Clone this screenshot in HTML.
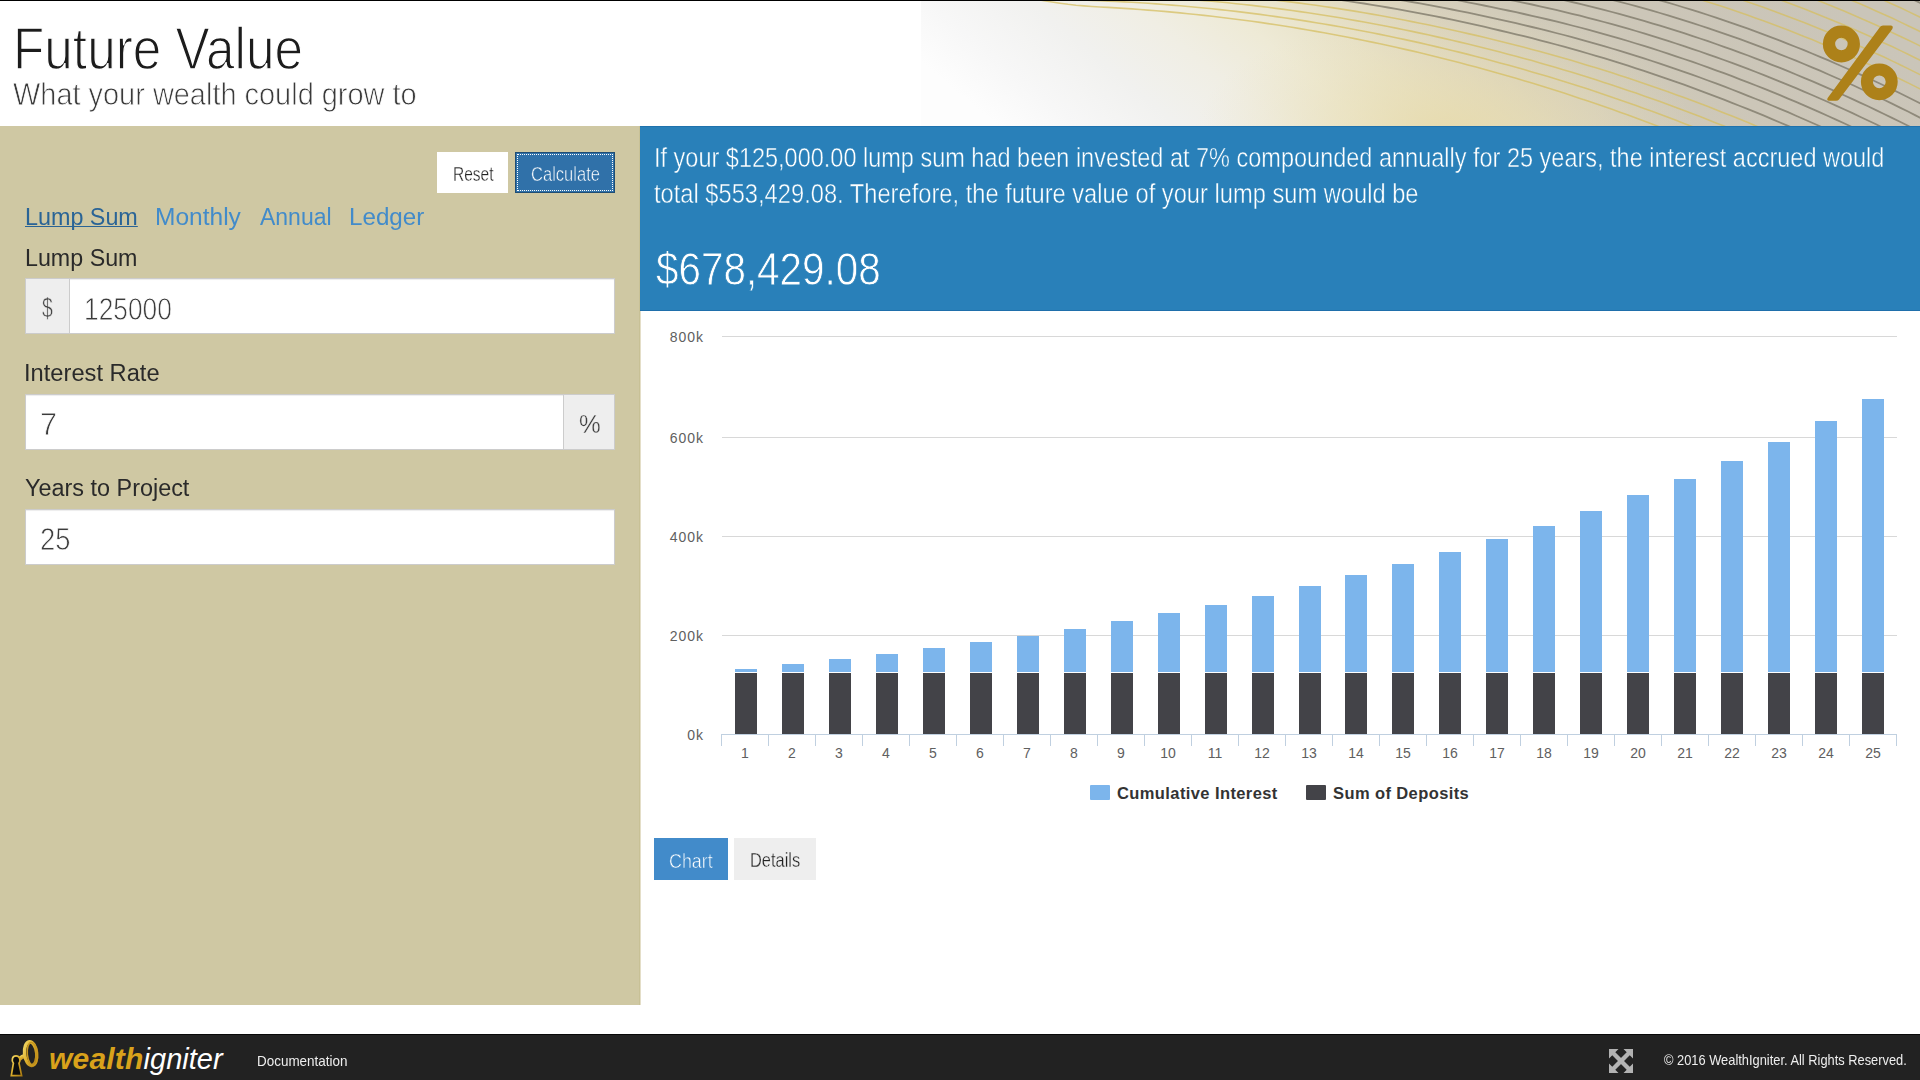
<!DOCTYPE html>
<html><head><meta charset="utf-8"><title>Future Value</title>
<style>
*{box-sizing:border-box;margin:0;padding:0}
html,body{width:1920px;height:1080px;overflow:hidden;background:#fff;font-family:"Liberation Sans",sans-serif}
.abs{position:absolute}
.tx{position:absolute;white-space:nowrap;transform-origin:0 0}
#topline{left:0;top:0;width:1920px;height:1px;background:#000}
#left{left:0;top:126px;width:640px;height:879px;background:#cfc8a3;border-right:1px solid #c8c196}
#reset{left:437px;top:152px;width:71px;height:41px;background:#fff}
#calc{left:515px;top:152px;width:100px;height:41px;background:#3071a9;border:1px solid #204d74}
#calc span{position:absolute;left:1px;top:1px;right:1px;bottom:1px;border:1px dotted #fff}
.inp{position:absolute;left:25px;width:590px;height:56px;background:#fff;border:1px solid #ccc;box-shadow:inset 0 1px 1px rgba(0,0,0,.075)}
.addon{position:absolute;top:0;height:54px;background:#eee}
#blue{left:640px;top:126px;width:1280px;height:185px;background:#2980b9;border-top:1px solid #1f72ad;border-bottom:1px solid #1f6fab}
.xl,.yl{font-family:"Liberation Sans",sans-serif;font-size:14px;fill:#606060}
.yl{letter-spacing:1px}
.lg{font-family:"Liberation Sans",sans-serif;font-size:16.5px;font-weight:bold;fill:#333;letter-spacing:0.4px}
#bchart{left:654px;top:838px;width:74px;height:42px;background:#428bca}
#bdet{left:734px;top:838px;width:82px;height:42px;background:#eee}
#footer{left:0;top:1034px;width:1920px;height:46px;background:#222;border-top:1px solid #080808}
#logo{left:49px;top:1044px;font-size:29px;line-height:29px;font-style:italic;white-space:nowrap}
#logo b{color:#d9a21b;font-size:30px;letter-spacing:0.2px}
#logo span{color:#fff}
#svgall{left:0;top:0;width:1920px;height:1080px}
</style></head><body>
<div id="topline" class="abs"></div>
<div id="left" class="abs"></div>
<div id="blue" class="abs"></div>
<div class="abs" style="left:640px;top:311px;width:1px;height:694px;background:#e4dec8"></div>
<div id="footer" class="abs"></div>
<div id="reset" class="abs"></div>
<div id="calc" class="abs"><span></span></div>
<div class="inp" style="top:278px"><div class="addon" style="left:0;width:44px;border-right:1px solid #ccc"></div></div>
<div class="inp" style="top:394px"><div class="addon" style="right:0;width:51px;border-left:1px solid #ccc"></div></div>
<div class="inp" style="top:509px"></div>
<div id="bchart" class="abs"></div>
<div id="bdet" class="abs"></div>
<svg id="svgall" class="abs" viewBox="0 0 1920 1080">
<defs>
<linearGradient id="hg" gradientUnits="userSpaceOnUse" x1="846.6" y1="0" x2="1256.6" y2="-492">
<stop offset="0" stop-color="#fdfdfd"/>
<stop offset="0.08" stop-color="#f7f7f7"/>
<stop offset="0.18" stop-color="#f1f1ef"/>
<stop offset="0.28" stop-color="#f0eee4"/>
<stop offset="0.37" stop-color="#eeead6"/>
<stop offset="0.45" stop-color="#e8e2c8"/>
<stop offset="0.52" stop-color="#dfd8c0"/>
<stop offset="0.58" stop-color="#d7d0bc"/>
<stop offset="0.66" stop-color="#d0cab9"/>
<stop offset="0.78" stop-color="#ccc6b8"/>
<stop offset="1" stop-color="#cac5b9"/>
</linearGradient>
<radialGradient id="hr" gradientUnits="userSpaceOnUse" cx="1445" cy="135" r="250" gradientTransform="translate(1445 135) scale(1 0.5) translate(-1445 -135)">
<stop offset="0" stop-color="#e6d9a8" stop-opacity="0.85"/>
<stop offset="0.5" stop-color="#e8ddb2" stop-opacity="0.45"/>
<stop offset="1" stop-color="#ebe2c0" stop-opacity="0"/>
</radialGradient>
<clipPath id="hc"><rect x="921" y="1" width="999" height="125"/></clipPath>
<filter id="hb" x="-1%" y="-10%" width="102%" height="120%"><feGaussianBlur stdDeviation="0.45"/></filter>
</defs>
<rect x="921" y="1" width="999" height="125" fill="url(#hg)"/>
<rect x="921" y="1" width="999" height="125" fill="url(#hr)"/>
<g clip-path="url(#hc)"><g fill="none" filter="url(#hb)">
<path d="M1020 -4.1 L1028 -2.3 L1036 -0.7 L1044 0.7 L1052 2.0 L1060 3.2 L1068 4.3 L1076 5.2 L1084 5.9 L1092 6.5 L1100 7.0 L1108 7.4 L1116 7.9 L1124 8.4 L1132 8.9 L1140 9.5 L1148 10.1 L1156 10.7 L1164 11.4 L1172 12.1 L1180 12.9 L1188 13.7 L1196 14.5 L1204 15.4 L1212 16.3 L1220 17.2 L1228 18.2 L1236 19.2 L1244 20.2 L1252 21.3 L1260 22.4 L1268 23.6 L1276 24.8 L1284 26.0 L1292 27.3 L1300 28.6 L1308 30.0 L1316 31.4 L1324 32.8 L1332 34.3 L1340 35.7 L1348 37.3 L1356 38.9 L1364 40.5 L1372 42.1 L1380 43.8 L1388 45.5 L1396 47.3 L1404 49.1 L1412 50.9 L1420 52.8 L1428 54.7 L1436 56.7 L1444 58.7 L1452 60.7 L1460 62.8 L1468 64.9 L1476 67.0 L1484 69.2 L1492 71.4 L1500 73.7 L1508 76.0 L1516 78.3 L1524 80.7 L1532 83.1 L1540 85.5 L1548 88.0 L1556 90.6 L1564 93.1 L1572 95.7 L1580 98.4 L1588 101.0 L1596 103.8 L1604 106.5 L1612 109.3 L1620 112.2 L1628 115.0 L1636 117.9 L1644 120.9 L1652 123.9 L1660 126.9 L1668 130.0 L1676 133.1 L1684 136.2 L1692 139.4" stroke="#d6bf62" stroke-width="1.6" opacity="0.75"/>
<path d="M1036 -6.7 L1044 -5.3 L1052 -4.0 L1060 -2.8 L1068 -1.7 L1076 -0.8 L1084 -0.1 L1092 0.4 L1100 0.8 L1108 1.1 L1116 1.5 L1124 1.9 L1132 2.3 L1140 2.8 L1148 3.3 L1156 3.9 L1164 4.5 L1172 5.1 L1180 5.8 L1188 6.5 L1196 7.2 L1204 8.0 L1212 8.8 L1220 9.6 L1228 10.5 L1236 11.4 L1244 12.4 L1252 13.4 L1260 14.4 L1268 15.5 L1276 16.6 L1284 17.7 L1292 18.9 L1300 20.1 L1308 21.4 L1316 22.7 L1324 24.0 L1332 25.4 L1340 26.8 L1348 28.2 L1356 29.7 L1364 31.2 L1372 32.8 L1380 34.4 L1388 36.0 L1396 37.7 L1404 39.4 L1412 41.1 L1420 42.9 L1428 44.8 L1436 46.6 L1444 48.5 L1452 50.5 L1460 52.4 L1468 54.4 L1476 56.5 L1484 58.6 L1492 60.7 L1500 62.9 L1508 65.1 L1516 67.3 L1524 69.6 L1532 71.9 L1540 74.2 L1548 76.6 L1556 79.0 L1564 81.5 L1572 84.0 L1580 86.6 L1588 89.1 L1596 91.8 L1604 94.4 L1612 97.2 L1620 99.9 L1628 102.7 L1636 105.5 L1644 108.4 L1652 111.3 L1660 114.3 L1668 117.3 L1676 120.3 L1684 123.4 L1692 126.5 L1700 129.6 L1708 132.8 L1716 136.1 L1724 139.3" stroke="#d6bf62" stroke-width="1.6" opacity="0.75"/>
<path d="M1068 -7.7 L1076 -6.8 L1084 -6.1 L1092 -5.7 L1100 -5.4 L1108 -5.2 L1116 -4.9 L1124 -4.6 L1132 -4.2 L1140 -3.8 L1148 -3.4 L1156 -3.0 L1164 -2.5 L1172 -1.9 L1180 -1.4 L1188 -0.8 L1196 -0.1 L1204 0.6 L1212 1.3 L1220 2.0 L1228 2.8 L1236 3.7 L1244 4.5 L1252 5.4 L1260 6.4 L1268 7.3 L1276 8.4 L1284 9.4 L1292 10.5 L1300 11.6 L1308 12.8 L1316 14.0 L1324 15.2 L1332 16.5 L1340 17.8 L1348 19.2 L1356 20.6 L1364 22.0 L1372 23.5 L1380 25.0 L1388 26.5 L1396 28.1 L1404 29.7 L1412 31.4 L1420 33.1 L1428 34.8 L1436 36.6 L1444 38.4 L1452 40.2 L1460 42.1 L1468 44.0 L1476 46.0 L1484 48.0 L1492 50.0 L1500 52.1 L1508 54.2 L1516 56.3 L1524 58.4 L1532 60.6 L1540 62.9 L1548 65.2 L1556 67.5 L1564 69.9 L1572 72.3 L1580 74.8 L1588 77.3 L1596 79.8 L1604 82.4 L1612 85.0 L1620 87.7 L1628 90.4 L1636 93.1 L1644 95.9 L1652 98.7 L1660 101.6 L1668 104.5 L1676 107.5 L1684 110.5 L1692 113.5 L1700 116.6 L1708 119.7 L1716 122.9 L1724 126.1 L1732 129.4 L1740 132.7 L1748 136.0 L1756 139.4" stroke="#d6bf62" stroke-width="1.6" opacity="0.75"/>
<path d="M1188 -8.0 L1196 -7.4 L1204 -6.8 L1212 -6.2 L1220 -5.5 L1228 -4.8 L1236 -4.1 L1244 -3.3 L1252 -2.5 L1260 -1.7 L1268 -0.8 L1276 0.1 L1284 1.1 L1292 2.1 L1300 3.1 L1308 4.2 L1316 5.3 L1324 6.5 L1332 7.6 L1340 8.9 L1348 10.1 L1356 11.4 L1364 12.8 L1372 14.1 L1380 15.5 L1388 17.0 L1396 18.5 L1404 20.0 L1412 21.6 L1420 23.2 L1428 24.8 L1436 26.5 L1444 28.2 L1452 30.0 L1460 31.7 L1468 33.6 L1476 35.4 L1484 37.3 L1492 39.3 L1500 41.3 L1508 43.2 L1516 45.3 L1524 47.3 L1532 49.4 L1540 51.6 L1548 53.8 L1556 56.0 L1564 58.3 L1572 60.6 L1580 63.0 L1588 65.4 L1596 67.8 L1604 70.3 L1612 72.8 L1620 75.4 L1628 78.0 L1636 80.7 L1644 83.4 L1652 86.2 L1660 89.0 L1668 91.8 L1676 94.7 L1684 97.6 L1692 100.6 L1700 103.6 L1708 106.6 L1716 109.7 L1724 112.9 L1732 116.1 L1740 119.3 L1748 122.6 L1756 125.9 L1764 129.3 L1772 132.7 L1780 136.1 L1788 139.6" stroke="#d6bf62" stroke-width="1.6" opacity="0.75"/>
<path d="M1284 -7.2 L1292 -6.3 L1300 -5.4 L1308 -4.4 L1316 -3.4 L1324 -2.3 L1332 -1.2 L1340 -0.1 L1348 1.1 L1356 2.3 L1364 3.5 L1372 4.8 L1380 6.1 L1388 7.5 L1396 8.9 L1404 10.3 L1412 11.8 L1420 13.3 L1428 14.8 L1436 16.4 L1444 18.0 L1452 19.7 L1460 21.4 L1468 23.1 L1476 24.9 L1484 26.7 L1492 28.6 L1500 30.5 L1508 32.3 L1516 34.3 L1524 36.2 L1532 38.2 L1540 40.3 L1548 42.3 L1556 44.5 L1564 46.7 L1572 48.9 L1580 51.1 L1588 53.5 L1596 55.8 L1604 58.2 L1612 60.7 L1620 63.2 L1628 65.7 L1636 68.3 L1644 70.9 L1652 73.6 L1660 76.3 L1668 79.1 L1676 81.9 L1684 84.7 L1692 87.6 L1700 90.6 L1708 93.6 L1716 96.6 L1724 99.7 L1732 102.8 L1740 106.0 L1748 109.2 L1756 112.4 L1764 115.7 L1772 119.1 L1780 122.5 L1788 125.9 L1796 129.4 L1804 133.0 L1812 136.5" stroke="#7f7a6a" stroke-width="1.8" opacity="0.8"/>
<path d="M1348 -8.0 L1356 -6.9 L1364 -5.7 L1372 -4.5 L1380 -3.3 L1388 -2.0 L1396 -0.7 L1404 0.6 L1412 2.0 L1420 3.4 L1428 4.9 L1436 6.4 L1444 7.9 L1452 9.5 L1460 11.1 L1468 12.7 L1476 14.4 L1484 16.1 L1492 17.9 L1500 19.7 L1508 21.4 L1516 23.2 L1524 25.1 L1532 27.0 L1540 28.9 L1548 30.9 L1556 33.0 L1564 35.0 L1572 37.2 L1580 39.3 L1588 41.6 L1596 43.8 L1604 46.1 L1612 48.5 L1620 50.9 L1628 53.4 L1636 55.9 L1644 58.4 L1652 61.0 L1660 63.6 L1668 66.3 L1676 69.1 L1684 71.8 L1692 74.7 L1700 77.5 L1708 80.5 L1716 83.4 L1724 86.4 L1732 89.5 L1740 92.6 L1748 95.8 L1756 99.0 L1764 102.2 L1772 105.5 L1780 108.9 L1788 112.2 L1796 115.7 L1804 119.2 L1812 122.7 L1820 126.3 L1828 129.9 L1836 133.6 L1844 137.3" stroke="#7f7a6a" stroke-width="1.8" opacity="0.8"/>
<path d="M1412 -7.8 L1420 -6.5 L1428 -5.1 L1436 -3.7 L1444 -2.3 L1452 -0.8 L1460 0.7 L1468 2.3 L1476 3.9 L1484 5.5 L1492 7.2 L1500 8.9 L1508 10.5 L1516 12.2 L1524 14.0 L1532 15.8 L1540 17.6 L1548 19.5 L1556 21.4 L1564 23.4 L1572 25.5 L1580 27.5 L1588 29.7 L1596 31.8 L1604 34.1 L1612 36.3 L1620 38.7 L1628 41.0 L1636 43.5 L1644 45.9 L1652 48.4 L1660 51.0 L1668 53.6 L1676 56.3 L1684 59.0 L1692 61.7 L1700 64.5 L1708 67.4 L1716 70.3 L1724 73.2 L1732 76.2 L1740 79.3 L1748 82.4 L1756 85.5 L1764 88.7 L1772 91.9 L1780 95.2 L1788 98.6 L1796 101.9 L1804 105.4 L1812 108.9 L1820 112.4 L1828 116.0 L1836 119.6 L1844 123.3 L1852 127.0 L1860 130.8 L1868 134.6 L1876 138.5" stroke="#7f7a6a" stroke-width="1.8" opacity="0.8"/>
<path d="M1476 -6.7 L1484 -5.1 L1492 -3.5 L1500 -1.9 L1508 -0.4 L1516 1.2 L1524 2.9 L1532 4.5 L1540 6.3 L1548 8.1 L1556 9.9 L1564 11.8 L1572 13.8 L1580 15.7 L1588 17.8 L1596 19.9 L1604 22.0 L1612 24.2 L1620 26.4 L1628 28.7 L1636 31.0 L1644 33.4 L1652 35.9 L1660 38.3 L1668 40.9 L1676 43.5 L1684 46.1 L1692 48.8 L1700 51.5 L1708 54.3 L1716 57.1 L1724 60.0 L1732 62.9 L1740 65.9 L1748 68.9 L1756 72.0 L1764 75.2 L1772 78.3 L1780 81.6 L1788 84.9 L1796 88.2 L1804 91.6 L1812 95.0 L1820 98.5 L1828 102.0 L1836 105.6 L1844 109.3 L1852 112.9 L1860 116.7 L1868 120.5 L1876 124.3 L1884 128.2 L1892 132.1 L1900 136.1" stroke="#7f7a6a" stroke-width="1.8" opacity="0.8"/>
<path d="M1532 -6.7 L1540 -5.0 L1548 -3.3 L1556 -1.6 L1564 0.2 L1572 2.0 L1580 3.9 L1588 5.9 L1596 7.9 L1604 9.9 L1612 12.0 L1620 14.2 L1628 16.4 L1636 18.6 L1644 20.9 L1652 23.3 L1660 25.7 L1668 28.1 L1676 30.7 L1684 33.2 L1692 35.8 L1700 38.5 L1708 41.2 L1716 44.0 L1724 46.8 L1732 49.6 L1740 52.6 L1748 55.5 L1756 58.6 L1764 61.6 L1772 64.8 L1780 67.9 L1788 71.2 L1796 74.5 L1804 77.8 L1812 81.2 L1820 84.6 L1828 88.1 L1836 91.6 L1844 95.2 L1852 98.9 L1860 102.6 L1868 106.3 L1876 110.1 L1884 114.0 L1892 117.9 L1900 121.8 L1908 125.8 L1916 129.9 L1924 134.0" stroke="#7f7a6a" stroke-width="1.8" opacity="0.8"/>
<path d="M1580 -7.9 L1588 -6.0 L1596 -4.1 L1604 -2.1 L1612 -0.1 L1620 1.9 L1628 4.0 L1636 6.2 L1644 8.4 L1652 10.7 L1660 13.0 L1668 15.4 L1676 17.9 L1684 20.3 L1692 22.9 L1700 25.5 L1708 28.1 L1716 30.8 L1724 33.6 L1732 36.4 L1740 39.2 L1748 42.1 L1756 45.1 L1764 48.1 L1772 51.2 L1780 54.3 L1788 57.5 L1796 60.7 L1804 64.0 L1812 67.3 L1820 70.7 L1828 74.2 L1836 77.7 L1844 81.2 L1852 84.8 L1860 88.5 L1868 92.2 L1876 95.9 L1884 99.8 L1892 103.6 L1900 107.6 L1908 111.5 L1916 115.6 L1924 119.7" stroke="#7f7a6a" stroke-width="1.8" opacity="0.8"/>
<path d="M1636 -6.2 L1644 -4.1 L1652 -1.9 L1660 0.4 L1668 2.7 L1676 5.0 L1684 7.5 L1692 9.9 L1700 12.4 L1708 15.0 L1716 17.7 L1724 20.3 L1732 23.1 L1740 25.9 L1748 28.7 L1756 31.6 L1764 34.6 L1772 37.6 L1780 40.7 L1788 43.8 L1796 47.0 L1804 50.2 L1812 53.5 L1820 56.8 L1828 60.2 L1836 63.7 L1844 67.2 L1852 70.7 L1860 74.4 L1868 78.0 L1876 81.8 L1884 85.5 L1892 89.4 L1900 93.3 L1908 97.2 L1916 101.2 L1924 105.3" stroke="#7f7a6a" stroke-width="1.8" opacity="0.8"/>
<path d="M1676 -7.8 L1684 -5.4 L1692 -3.0 L1700 -0.6 L1708 1.9 L1716 4.5 L1724 7.1 L1732 9.8 L1740 12.5 L1748 15.3 L1756 18.2 L1764 21.1 L1772 24.0 L1780 27.0 L1788 30.1 L1796 33.2 L1804 36.4 L1812 39.6 L1820 42.9 L1828 46.3 L1836 49.7 L1844 53.2 L1852 56.7 L1860 60.3 L1868 63.9 L1876 67.6 L1884 71.3 L1892 75.1 L1900 79.0 L1908 82.9 L1916 86.9 L1924 90.9" stroke="#d6bf62" stroke-width="1.6" opacity="0.75"/>
<path d="M1724 -6.1 L1732 -3.5 L1740 -0.8 L1748 1.9 L1756 4.7 L1764 7.5 L1772 10.4 L1780 13.4 L1788 16.4 L1796 19.5 L1804 22.6 L1812 25.8 L1820 29.0 L1828 32.3 L1836 35.7 L1844 39.1 L1852 42.6 L1860 46.2 L1868 49.7 L1876 53.4 L1884 57.1 L1892 60.9 L1900 64.7 L1908 68.6 L1916 72.6 L1924 76.6" stroke="#d6bf62" stroke-width="1.6" opacity="0.75"/>
<path d="M1764 -6.0 L1772 -3.2 L1780 -0.3 L1788 2.7 L1796 5.7 L1804 8.8 L1812 12.0 L1820 15.2 L1828 18.4 L1836 21.7 L1844 25.1 L1852 28.5 L1860 32.0 L1868 35.6 L1876 39.2 L1884 42.9 L1892 46.6 L1900 50.4 L1908 54.3 L1916 58.2 L1924 62.2" stroke="#d6bf62" stroke-width="1.6" opacity="0.75"/>
<path d="M1804 -5.0 L1812 -1.9 L1820 1.3 L1828 4.5 L1836 7.7 L1844 11.1 L1852 14.5 L1860 17.9 L1868 21.5 L1876 25.0 L1884 28.7 L1892 32.4 L1900 36.2 L1908 40.0 L1916 43.9 L1924 47.8" stroke="#d6bf62" stroke-width="1.6" opacity="0.75"/>
<path d="M1836 -6.2 L1844 -2.9 L1852 0.4 L1860 3.8 L1868 7.3 L1876 10.9 L1884 14.5 L1892 18.1 L1900 21.9 L1908 25.7 L1916 29.5 L1924 33.5" stroke="#d6bf62" stroke-width="1.6" opacity="0.75"/>
<path d="M1868 -6.8 L1876 -3.3 L1884 0.3 L1892 3.9 L1900 7.6 L1908 11.4 L1916 15.2 L1924 19.1" stroke="#d6bf62" stroke-width="1.6" opacity="0.75"/>
<path d="M1900 -6.7 L1908 -2.9 L1916 0.9 L1924 4.7" stroke="#7f7a6a" stroke-width="1.8" opacity="0.8"/>
</g></g>
<circle cx="1841.4" cy="44" r="12.4" fill="none" stroke="#ad8119" stroke-width="12.3"/>
<circle cx="1879.3" cy="81.8" r="12.4" fill="none" stroke="#ad8119" stroke-width="12"/>
<path d="M1883 25.5 L1891 25.5 Q1894 26 1892 29.5 L1839 99.5 Q1838 100.8 1836 100.8 L1829 100.8 Q1826 100.5 1828 97.5 L1880 27 Q1881 25.5 1883 25.5 Z" fill="#ad8119"/>
<rect x="722" y="336" width="1175" height="1" fill="#d8d8d8"/>
<rect x="722" y="437" width="1175" height="1" fill="#d8d8d8"/>
<rect x="722" y="536" width="1175" height="1" fill="#d8d8d8"/>
<rect x="722" y="635" width="1175" height="1" fill="#d8d8d8"/>
<rect x="735" y="673" width="22" height="61" fill="#434348"/>
<rect x="735" y="669" width="22" height="3" fill="#7cb5ec"/>
<rect x="782" y="673" width="22" height="61" fill="#434348"/>
<rect x="782" y="664" width="22" height="8" fill="#7cb5ec"/>
<rect x="829" y="673" width="22" height="61" fill="#434348"/>
<rect x="829" y="659" width="22" height="13" fill="#7cb5ec"/>
<rect x="876" y="673" width="22" height="61" fill="#434348"/>
<rect x="876" y="654" width="22" height="18" fill="#7cb5ec"/>
<rect x="923" y="673" width="22" height="61" fill="#434348"/>
<rect x="923" y="648" width="22" height="24" fill="#7cb5ec"/>
<rect x="970" y="673" width="22" height="61" fill="#434348"/>
<rect x="970" y="642" width="22" height="30" fill="#7cb5ec"/>
<rect x="1017" y="673" width="22" height="61" fill="#434348"/>
<rect x="1017" y="636" width="22" height="36" fill="#7cb5ec"/>
<rect x="1064" y="673" width="22" height="61" fill="#434348"/>
<rect x="1064" y="629" width="22" height="43" fill="#7cb5ec"/>
<rect x="1111" y="673" width="22" height="61" fill="#434348"/>
<rect x="1111" y="621" width="22" height="51" fill="#7cb5ec"/>
<rect x="1158" y="673" width="22" height="61" fill="#434348"/>
<rect x="1158" y="613" width="22" height="59" fill="#7cb5ec"/>
<rect x="1205" y="673" width="22" height="61" fill="#434348"/>
<rect x="1205" y="605" width="22" height="67" fill="#7cb5ec"/>
<rect x="1252" y="673" width="22" height="61" fill="#434348"/>
<rect x="1252" y="596" width="22" height="76" fill="#7cb5ec"/>
<rect x="1299" y="673" width="22" height="61" fill="#434348"/>
<rect x="1299" y="586" width="22" height="86" fill="#7cb5ec"/>
<rect x="1345" y="673" width="22" height="61" fill="#434348"/>
<rect x="1345" y="575" width="22" height="97" fill="#7cb5ec"/>
<rect x="1392" y="673" width="22" height="61" fill="#434348"/>
<rect x="1392" y="564" width="22" height="108" fill="#7cb5ec"/>
<rect x="1439" y="673" width="22" height="61" fill="#434348"/>
<rect x="1439" y="552" width="22" height="120" fill="#7cb5ec"/>
<rect x="1486" y="673" width="22" height="61" fill="#434348"/>
<rect x="1486" y="539" width="22" height="133" fill="#7cb5ec"/>
<rect x="1533" y="673" width="22" height="61" fill="#434348"/>
<rect x="1533" y="526" width="22" height="146" fill="#7cb5ec"/>
<rect x="1580" y="673" width="22" height="61" fill="#434348"/>
<rect x="1580" y="511" width="22" height="161" fill="#7cb5ec"/>
<rect x="1627" y="673" width="22" height="61" fill="#434348"/>
<rect x="1627" y="495" width="22" height="177" fill="#7cb5ec"/>
<rect x="1674" y="673" width="22" height="61" fill="#434348"/>
<rect x="1674" y="479" width="22" height="193" fill="#7cb5ec"/>
<rect x="1721" y="673" width="22" height="61" fill="#434348"/>
<rect x="1721" y="461" width="22" height="211" fill="#7cb5ec"/>
<rect x="1768" y="673" width="22" height="61" fill="#434348"/>
<rect x="1768" y="442" width="22" height="230" fill="#7cb5ec"/>
<rect x="1815" y="673" width="22" height="61" fill="#434348"/>
<rect x="1815" y="421" width="22" height="251" fill="#7cb5ec"/>
<rect x="1862" y="673" width="22" height="61" fill="#434348"/>
<rect x="1862" y="399" width="22" height="273" fill="#7cb5ec"/>
<rect x="721" y="734" width="1176" height="1" fill="#c0d0e0"/>
<rect x="721" y="735" width="1" height="11" fill="#c0d0e0"/>
<rect x="768" y="735" width="1" height="11" fill="#c0d0e0"/>
<rect x="815" y="735" width="1" height="11" fill="#c0d0e0"/>
<rect x="862" y="735" width="1" height="11" fill="#c0d0e0"/>
<rect x="909" y="735" width="1" height="11" fill="#c0d0e0"/>
<rect x="956" y="735" width="1" height="11" fill="#c0d0e0"/>
<rect x="1003" y="735" width="1" height="11" fill="#c0d0e0"/>
<rect x="1050" y="735" width="1" height="11" fill="#c0d0e0"/>
<rect x="1097" y="735" width="1" height="11" fill="#c0d0e0"/>
<rect x="1144" y="735" width="1" height="11" fill="#c0d0e0"/>
<rect x="1191" y="735" width="1" height="11" fill="#c0d0e0"/>
<rect x="1238" y="735" width="1" height="11" fill="#c0d0e0"/>
<rect x="1285" y="735" width="1" height="11" fill="#c0d0e0"/>
<rect x="1332" y="735" width="1" height="11" fill="#c0d0e0"/>
<rect x="1379" y="735" width="1" height="11" fill="#c0d0e0"/>
<rect x="1426" y="735" width="1" height="11" fill="#c0d0e0"/>
<rect x="1473" y="735" width="1" height="11" fill="#c0d0e0"/>
<rect x="1520" y="735" width="1" height="11" fill="#c0d0e0"/>
<rect x="1567" y="735" width="1" height="11" fill="#c0d0e0"/>
<rect x="1614" y="735" width="1" height="11" fill="#c0d0e0"/>
<rect x="1661" y="735" width="1" height="11" fill="#c0d0e0"/>
<rect x="1708" y="735" width="1" height="11" fill="#c0d0e0"/>
<rect x="1755" y="735" width="1" height="11" fill="#c0d0e0"/>
<rect x="1802" y="735" width="1" height="11" fill="#c0d0e0"/>
<rect x="1849" y="735" width="1" height="11" fill="#c0d0e0"/>
<rect x="1896" y="735" width="1" height="11" fill="#c0d0e0"/>
<text x="745.0" y="757.8" text-anchor="middle" class="xl">1</text>
<text x="792.0" y="757.8" text-anchor="middle" class="xl">2</text>
<text x="839.0" y="757.8" text-anchor="middle" class="xl">3</text>
<text x="886.0" y="757.8" text-anchor="middle" class="xl">4</text>
<text x="933.0" y="757.8" text-anchor="middle" class="xl">5</text>
<text x="980.0" y="757.8" text-anchor="middle" class="xl">6</text>
<text x="1027.0" y="757.8" text-anchor="middle" class="xl">7</text>
<text x="1074.0" y="757.8" text-anchor="middle" class="xl">8</text>
<text x="1121.0" y="757.8" text-anchor="middle" class="xl">9</text>
<text x="1168.0" y="757.8" text-anchor="middle" class="xl">10</text>
<text x="1215.0" y="757.8" text-anchor="middle" class="xl">11</text>
<text x="1262.0" y="757.8" text-anchor="middle" class="xl">12</text>
<text x="1309.0" y="757.8" text-anchor="middle" class="xl">13</text>
<text x="1356.0" y="757.8" text-anchor="middle" class="xl">14</text>
<text x="1403.0" y="757.8" text-anchor="middle" class="xl">15</text>
<text x="1450.0" y="757.8" text-anchor="middle" class="xl">16</text>
<text x="1497.0" y="757.8" text-anchor="middle" class="xl">17</text>
<text x="1544.0" y="757.8" text-anchor="middle" class="xl">18</text>
<text x="1591.0" y="757.8" text-anchor="middle" class="xl">19</text>
<text x="1638.0" y="757.8" text-anchor="middle" class="xl">20</text>
<text x="1685.0" y="757.8" text-anchor="middle" class="xl">21</text>
<text x="1732.0" y="757.8" text-anchor="middle" class="xl">22</text>
<text x="1779.0" y="757.8" text-anchor="middle" class="xl">23</text>
<text x="1826.0" y="757.8" text-anchor="middle" class="xl">24</text>
<text x="1873.0" y="757.8" text-anchor="middle" class="xl">25</text>
<text x="704" y="342.0" text-anchor="end" class="yl">800k</text>
<text x="704" y="443.0" text-anchor="end" class="yl">600k</text>
<text x="704" y="542.0" text-anchor="end" class="yl">400k</text>
<text x="704" y="641.0" text-anchor="end" class="yl">200k</text>
<text x="704" y="740.0" text-anchor="end" class="yl">0k</text>
<rect x="1090" y="785" width="20" height="15" rx="1" fill="#7cb5ec"/>
<text x="1117" y="799.3" class="lg">Cumulative Interest</text>
<rect x="1306" y="785" width="20" height="15" rx="1" fill="#434348"/>
<text x="1333" y="799.3" class="lg">Sum of Deposits</text>
<defs><linearGradient id="kg" x1="0" y1="0" x2="1" y2="1">
<stop offset="0" stop-color="#f5dc6a"/><stop offset="0.45" stop-color="#dcae2c"/><stop offset="1" stop-color="#a97a12"/></linearGradient></defs>
<path d="M19 1059.5 Q22 1056 26 1056" stroke="url(#kg)" stroke-width="4.2" fill="none"/>
<ellipse cx="30.6" cy="1053.6" rx="6.1" ry="11.9" fill="none" stroke="url(#kg)" stroke-width="3.4" transform="rotate(-6 30.6 1053.6)"/>
<ellipse cx="32.3" cy="1054" rx="5" ry="11.6" fill="none" stroke="#c9981f" stroke-width="1.6" transform="rotate(-6 32.3 1054)"/>
<path d="M16 1055.8 C12.2 1055.8 11.2 1060.5 13.4 1063.2 L11.3 1075.6 L21.6 1075.6 L19 1063.2 C21 1060.5 19.8 1055.8 16 1055.8 Z" fill="#0d0d0d" stroke="url(#kg)" stroke-width="1.7"/>
<g transform="translate(1609 1049)" fill="#b2b2b2">
<path d="M0 0H9.5L0 9.5Z M24 0V9.5L14.5 0Z M0 24V14.5L9.5 24Z M24 24H14.5L24 14.5Z"/>
<path d="M0 0H3.1L24 20.9V24H20.9L0 3.1Z"/>
<path d="M24 0V3.1L3.1 24H0V20.9L20.9 0Z"/>
</g>
</svg>
<div id="t_title" class="tx" style="left:13.40px;top:20.05px;font-size:58.3px;line-height:58.3px;color:#1c1c1c;-webkit-text-stroke:1.4px #fff;transform:scaleX(0.8801)">Future Value</div>
<div id="t_sub" class="tx" style="left:13.07px;top:79.36px;font-size:31px;line-height:31px;color:#3a3a3a;-webkit-text-stroke:0.8px #fff;transform:scaleX(0.9333)">What your wealth could grow to</div>
<div id="t_msg1" class="tx" style="left:654.06px;top:145.37px;font-size:27px;line-height:27px;color:#fff;-webkit-text-stroke:0.45px #2980b9;transform:scaleX(0.8702)">If your $125,000.00 lump sum had been invested at 7% compounded annually for 25 years, the interest accrued would</div>
<div id="t_msg2" class="tx" style="left:654.12px;top:181.37px;font-size:27px;line-height:27px;color:#fff;-webkit-text-stroke:0.45px #2980b9;transform:scaleX(0.8772)">total $553,429.08. Therefore, the future value of your lump sum would be</div>
<div id="t_fv" class="tx" style="left:655.71px;top:246.58px;font-size:45.5px;line-height:45.5px;color:#fff;-webkit-text-stroke:0.8px #2980b9;transform:scaleX(0.8880)">$678,429.08</div>
<div id="t_reset" class="tx" style="left:452.72px;top:164.02px;font-size:20px;line-height:20px;color:#222;-webkit-text-stroke:0.3px #fff;transform:scaleX(0.7765)">Reset</div>
<div id="t_calc" class="tx" style="left:530.77px;top:164.12px;font-size:20px;line-height:20px;color:#fff;-webkit-text-stroke:0.5px #3071a9;transform:scaleX(0.8268)">Calculate</div>
<div id="t_chart" class="tx" style="left:669.12px;top:850.57px;font-size:20.3px;line-height:20.3px;color:#fff;-webkit-text-stroke:0.5px #428bca;transform:scaleX(0.8812)">Chart</div>
<div id="t_det" class="tx" style="left:749.99px;top:850.47px;font-size:20.3px;line-height:20.3px;color:#222;-webkit-text-stroke:0.3px #eee;transform:scaleX(0.8083)">Details</div>
<div id="t_doc" class="tx" style="left:256.88px;top:1053.54px;font-size:14.6px;line-height:14.6px;color:#eee;transform:scaleX(0.9216)">Documentation</div>
<div id="t_copy" class="tx" style="left:1664.00px;top:1053.47px;font-size:14.8px;line-height:14.8px;color:#eee;transform:scaleX(0.8685)">&copy; 2016 WealthIgniter. All Rights Reserved.</div>
<div id="t_tab1" class="tx" style="left:24.61px;top:205.61px;font-size:23.5px;line-height:23.5px;color:#2a6496;text-decoration:underline;text-decoration-thickness:1px;text-underline-offset:0.5px;text-decoration-skip-ink:none;transform:scaleX(0.9927)">Lump Sum</div>
<div id="t_tab2" class="tx" style="left:154.61px;top:205.61px;font-size:23.5px;line-height:23.5px;color:#428bca;transform:scaleX(1.0438)">Monthly</div>
<div id="t_tab3" class="tx" style="left:259.50px;top:205.61px;font-size:23.5px;line-height:23.5px;color:#428bca;transform:scaleX(0.9778)">Annual</div>
<div id="t_tab4" class="tx" style="left:348.74px;top:205.61px;font-size:23.5px;line-height:23.5px;color:#428bca;transform:scaleX(1.0296)">Ledger</div>
<div id="t_lbl1" class="tx" style="left:24.58px;top:246.63px;font-size:23px;line-height:23px;color:#2a2a2a;transform:scaleX(1.0111)">Lump Sum</div>
<div id="t_lbl2" class="tx" style="left:24.44px;top:362.13px;font-size:23px;line-height:23px;color:#2a2a2a;transform:scaleX(1.0295)">Interest Rate</div>
<div id="t_lbl3" class="tx" style="left:25.23px;top:476.83px;font-size:23px;line-height:23px;color:#2a2a2a;transform:scaleX(1.0177)">Years to Project</div>
<div id="t_in1" class="tx" style="left:83.96px;top:292.51px;font-size:32px;line-height:32px;color:#3c3c3c;-webkit-text-stroke:0.8px #fff;transform:scaleX(0.8223)">125000</div>
<div id="t_in2" class="tx" style="left:39.77px;top:408.01px;font-size:32px;line-height:32px;color:#3c3c3c;-webkit-text-stroke:0.8px #fff;transform:scaleX(0.9643)">7</div>
<div id="t_in3" class="tx" style="left:40.19px;top:522.51px;font-size:32px;line-height:32px;color:#3c3c3c;-webkit-text-stroke:0.8px #fff;transform:scaleX(0.8562)">25</div>
<div id="t_dol" class="tx" style="left:41.71px;top:294.10px;font-size:28px;line-height:28px;color:#444;-webkit-text-stroke:0.6px #eee;transform:scaleX(0.6929)">$</div>
<div id="t_pct" class="tx" style="left:579.06px;top:411.07px;font-size:26px;line-height:26px;color:#3c3c3c;-webkit-text-stroke:0.35px #eee;transform:scaleX(0.9381)">%</div>
<div id="logo" class="abs"><b>wealth</b><span>igniter</span></div>
</body></html>
